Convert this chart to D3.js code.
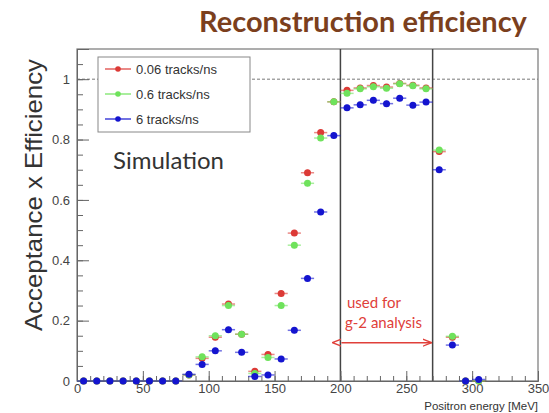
<!DOCTYPE html>
<html>
<head>
<meta charset="utf-8">
<script src="https://cdn.jsdelivr.net/npm/d3@7"></script>
<style>
  body { margin: 0; background: #fff; }
  svg { display: block; }
</style>
</head>
<body>
<div id="chart"></div>
<script>
// bin centres (MeV), 10 MeV wide bins
const energy = [5, 15, 25, 35, 45, 55, 65, 75, 85, 95, 105, 115, 125, 135, 145, 155,
  165, 175, 185, 195, 205, 215, 225, 235, 245, 255, 265, 275, 285, 295, 305];
const eff006 = [0, 0, 0, 0, 0, 0, 0, 0, 0.02, 0.075, 0.145, 0.255, 0.155, 0.032, 0.088, 0.29,
  0.49, 0.69, 0.823, 0.925, 0.963, 0.971, 0.979, 0.974, 0.986, 0.98, 0.971, 0.76, 0.145, 0, 0];
const eff06 = [0, 0, 0, 0, 0, 0, 0, 0, 0.02, 0.08, 0.15, 0.25, 0.155, 0.025, 0.078, 0.25,
  0.45, 0.655, 0.805, 0.925, 0.953, 0.968, 0.975, 0.97, 0.985, 0.978, 0.968, 0.765, 0.148, 0, 0];
const eff6 = [0, 0, 0, 0, 0, 0, 0, 0, 0.022, 0.055, 0.1, 0.17, 0.095, 0.015, 0.02, 0.073,
  0.168, 0.34, 0.56, 0.813, 0.905, 0.915, 0.93, 0.919, 0.937, 0.914, 0.924, 0.7, 0.119, 0, 0.005];

const seriesNames = ["0.06 tracks/ns", "0.6 tracks/ns", "6 tracks/ns"];
const seriesColors = ["#dc3a36", "#6fe25c", "#1414cf"];

const xTicks = [0, 50, 100, 150, 200, 250, 300, 350];
const yTicks = [0, 0.2, 0.4, 0.6, 0.8, 1];
const yTickLabels = ["0", "0.2", "0.4", "0.6", "0.8", "1"];
const analysisRange = [200, 270];

const width = 549, height = 413;
const margin = { top: 49, right: 11, bottom: 32, left: 77 };

const svg = d3.select("#chart").append("svg")
  .attr("width", width)
  .attr("height", height);

const x = d3.scaleLinear().domain([0, 350]).range([margin.left, width - margin.right]);
const y = d3.scaleLinear().domain([0, 1.1]).range([height - margin.bottom, margin.top]);

// title
svg.append("text")
  .attr("x", 363).attr("y", 32)
  .attr("text-anchor", "middle")
  .style("font-family", "Lato, sans-serif")
  .style("font-weight", "bold")
  .style("font-size", "29px")
  .style("fill", "#7b3f1d")
  .text("Reconstruction efficiency");

// frame
svg.append("rect")
  .attr("x", x(0)).attr("y", y(1.1))
  .attr("width", x(350) - x(0))
  .attr("height", y(0) - y(1.1))
  .attr("fill", "none")
  .attr("stroke", "#777")
  .attr("stroke-width", 1.2);

// dashed line at 1
svg.append("line")
  .attr("x1", x(0)).attr("x2", x(350))
  .attr("y1", y(1)).attr("y2", y(1))
  .attr("stroke", "#777")
  .attr("stroke-dasharray", "3,2");

// analysis window lines
svg.selectAll(".vline").data(analysisRange).enter().append("line")
  .attr("x1", d => x(d)).attr("x2", d => x(d))
  .attr("y1", y(1.1)).attr("y2", y(0))
  .attr("stroke", "#444")
  .attr("stroke-width", 1.5);

// axes (ROOT style, ticks inside)
const tickFont = g => g.selectAll("text")
  .style("font-family", "'Liberation Sans', Arial, sans-serif")
  .style("font-size", "13px")
  .style("fill", "#444");

const yAxis = svg.append("g")
  .attr("transform", `translate(${x(0)},0)`)
  .call(d3.axisLeft(y).tickValues(yTicks).tickSize(-12).tickPadding(7)
    .tickFormat((d, i) => yTickLabels[i]));
yAxis.select(".domain").attr("stroke", "#666");
yAxis.selectAll("line").attr("stroke", "#666");
tickFont(yAxis);

const yMinor = svg.append("g")
  .attr("transform", `translate(${x(0)},0)`)
  .call(d3.axisLeft(y).ticks(22).tickSize(-6).tickFormat(""));
yMinor.select(".domain").remove();
yMinor.selectAll("line").attr("stroke", "#666");

const xAxis = svg.append("g")
  .attr("transform", `translate(0,${y(0)})`)
  .call(d3.axisBottom(x).tickValues(xTicks).tickSize(-10).tickPadding(3)
    .tickFormat(d3.format("d")));
xAxis.select(".domain").attr("stroke", "#666");
xAxis.selectAll("line").attr("stroke", "#666");
tickFont(xAxis);

const xMinor = svg.append("g")
  .attr("transform", `translate(0,${y(0)})`)
  .call(d3.axisBottom(x).ticks(35).tickSize(-5).tickFormat(""));
xMinor.select(".domain").remove();
xMinor.selectAll("line").attr("stroke", "#666");

// axis titles
svg.append("text")
  .attr("x", x(350)).attr("y", 410)
  .attr("text-anchor", "end")
  .style("font-family", "'Liberation Sans', Arial, sans-serif")
  .style("font-size", "11.5px")
  .style("fill", "#333")
  .text("Positron energy [MeV]");

svg.append("text")
  .attr("transform", "translate(42,195) rotate(-90)")
  .attr("text-anchor", "middle")
  .attr("textLength", 272)
  .attr("lengthAdjust", "spacingAndGlyphs")
  .style("font-family", "'Liberation Sans', Arial, sans-serif")
  .style("font-size", "24px")
  .style("fill", "#333")
  .text("Acceptance x Efficiency");

// "Simulation"
svg.append("text")
  .attr("x", 113).attr("y", 169)
  .style("font-family", "Lato, sans-serif")
  .style("font-size", "24px")
  .style("fill", "#333")
  .text("Simulation");

// data points
const allSeries = [eff006, eff06, eff6];
allSeries.forEach((vals, k) => {
  const g = svg.append("g");
  const pts = energy.map((e, i) => ({ e, v: vals[i] }));
  g.selectAll(".hbar").data(pts).enter().append("line")
    .attr("x1", d => x(d.e - 5)).attr("x2", d => x(d.e + 5))
    .attr("y1", d => y(d.v)).attr("y2", d => y(d.v))
    .attr("stroke", seriesColors[k])
    .attr("stroke-opacity", 0.6)
    .attr("stroke-width", 1.5);
  g.selectAll(".vbar").data(pts).enter().append("line")
    .attr("x1", d => x(d.e)).attr("x2", d => x(d.e))
    .attr("y1", d => y(d.v) - 3).attr("y2", d => y(d.v) + 3)
    .attr("stroke", seriesColors[k])
    .attr("stroke-opacity", 0.6)
    .attr("stroke-width", 1.2);
  g.selectAll("circle").data(pts).enter().append("circle")
    .attr("cx", d => x(d.e)).attr("cy", d => y(d.v))
    .attr("r", 3.5)
    .attr("fill", seriesColors[k]);
});

// analysis annotation
const arrowY = y(0.127);
svg.append("defs").selectAll("marker").data(["start", "end"]).enter().append("marker")
  .attr("id", d => "arr-" + d)
  .attr("viewBox", "0 0 10 10")
  .attr("refX", d => d === "end" ? 10 : 0).attr("refY", 5)
  .attr("markerWidth", 6).attr("markerHeight", 6)
  .attr("orient", "auto-start-reverse")
  .append("path")
  .attr("d", "M0,1 L10,5 L0,9")
  .attr("fill", "none")
  .attr("stroke", "#e0403a")
  .attr("stroke-width", 1.5);

svg.append("line")
  .attr("x1", x(analysisRange[0]) + 1).attr("x2", x(analysisRange[1]) - 1)
  .attr("y1", arrowY).attr("y2", arrowY)
  .attr("stroke", "#e0403a")
  .attr("stroke-width", 1.5)
  .attr("marker-start", "url(#arr-start)")
  .attr("marker-end", "url(#arr-end)");

svg.append("text")
  .attr("x", 347).attr("y", 308)
  .style("font-family", "Lato, sans-serif")
  .style("font-size", "15px")
  .style("fill", "#e0403a")
  .text("used for");
svg.append("text")
  .attr("x", 345).attr("y", 328)
  .style("font-family", "Lato, sans-serif")
  .style("font-size", "15px")
  .style("fill", "#e0403a")
  .text("g-2 analysis");

// legend
const legend = svg.append("g");
legend.append("rect")
  .attr("x", 98).attr("y", 57)
  .attr("width", 152).attr("height", 75)
  .attr("fill", "#fff")
  .attr("stroke", "#888");
seriesNames.forEach((name, i) => {
  const ly = 69 + i * 25;
  legend.append("line")
    .attr("x1", 105).attr("x2", 131)
    .attr("y1", ly).attr("y2", ly)
    .attr("stroke", seriesColors[i])
    .attr("stroke-width", 1.2);
  legend.append("circle")
    .attr("cx", 118).attr("cy", ly).attr("r", 2.8)
    .attr("fill", seriesColors[i]);
  legend.append("text")
    .attr("x", 136).attr("y", ly + 5)
    .style("font-family", "'Liberation Sans', Arial, sans-serif")
    .style("font-size", "13px")
    .style("fill", "#333")
    .text(name);
});
</script>
</body>
</html>
